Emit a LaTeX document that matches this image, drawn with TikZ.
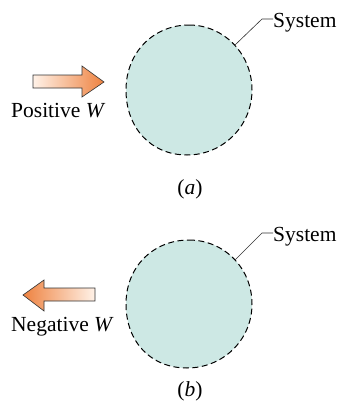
\documentclass[tikz,border=0pt]{standalone}
\usepackage{fontspec}
\setmainfont{Liberation Serif}
\begin{document}
\begin{tikzpicture}[x=1pt,y=-1pt,
  blob/.style={fill=sysfill,draw=black,line width=1pt,dash pattern=on 6pt off 3.5pt},
  workarrow/.style={draw=black!80,line width=0.6pt},
  leader/.style={draw=black!80,line width=0.6pt},
  lbl/.style={font=\fontsize{21.5}{25}\selectfont,inner sep=0pt}]
\definecolor{sysfill}{HTML}{CDE8E4}
\definecolor{arrowdark}{HTML}{EE8240}
\definecolor{arrowlight}{HTML}{FFF2E8}
\useasboundingbox (0,0) rectangle (337,402);

% ---------- panel (a) ----------
\begin{scope}
\path[blob] (189,25) .. controls (224,25) and (252,54) .. (252,90)
  .. controls (252,126) and (223,155) .. (187,155)
  .. controls (151,155) and (126,128) .. (126,90)
  .. controls (126,52) and (154,25) .. cycle;
\coordinate (ta) at (235,45);
\coordinate (ka) at (262,19);
\node[lbl,anchor=base west] (sysa) at (273,27) {System};
\draw[leader] (ta) -- (ka) -- (sysa.west |- ka);
\shade[workarrow,left color=arrowlight,right color=arrowdark]
  (33,75) -- (82,75) -- (82,66) -- (104,82) -- (82,97) -- (82,88) -- (33,88) -- cycle;
\node[lbl,anchor=base west] (posw) at (11,117) {Positive \textit{W}};
\node[lbl,anchor=base] (capa) at (190,194) {(\textit{a})};
\end{scope}

% ---------- panel (b) ----------
\begin{scope}[yshift=-214pt]
\path[blob] (189,26) .. controls (224,26) and (252,54) .. (252,90)
  .. controls (252,126) and (223,154) .. (187,154)
  .. controls (151,154) and (126,128) .. (126,90)
  .. controls (126,52) and (154,26) .. cycle;
\coordinate (tb) at (235,46);
\coordinate (kb) at (262,19);
\node[lbl,anchor=base west] (sysb) at (273,27) {System};
\draw[leader] (tb) -- (kb) -- (sysb.west |- kb);
\shade[workarrow,left color=arrowdark,right color=arrowlight]
  (95,74) -- (44,74) -- (44,66) -- (23,81) -- (44,97) -- (44,87) -- (95,87) -- cycle;
\node[lbl,anchor=base west] (negw) at (11,117) {Negative \textit{W}};
\node[lbl,anchor=base] (capb) at (190,182) {(\textit{b})};
\end{scope}
\end{tikzpicture}
\end{document}
